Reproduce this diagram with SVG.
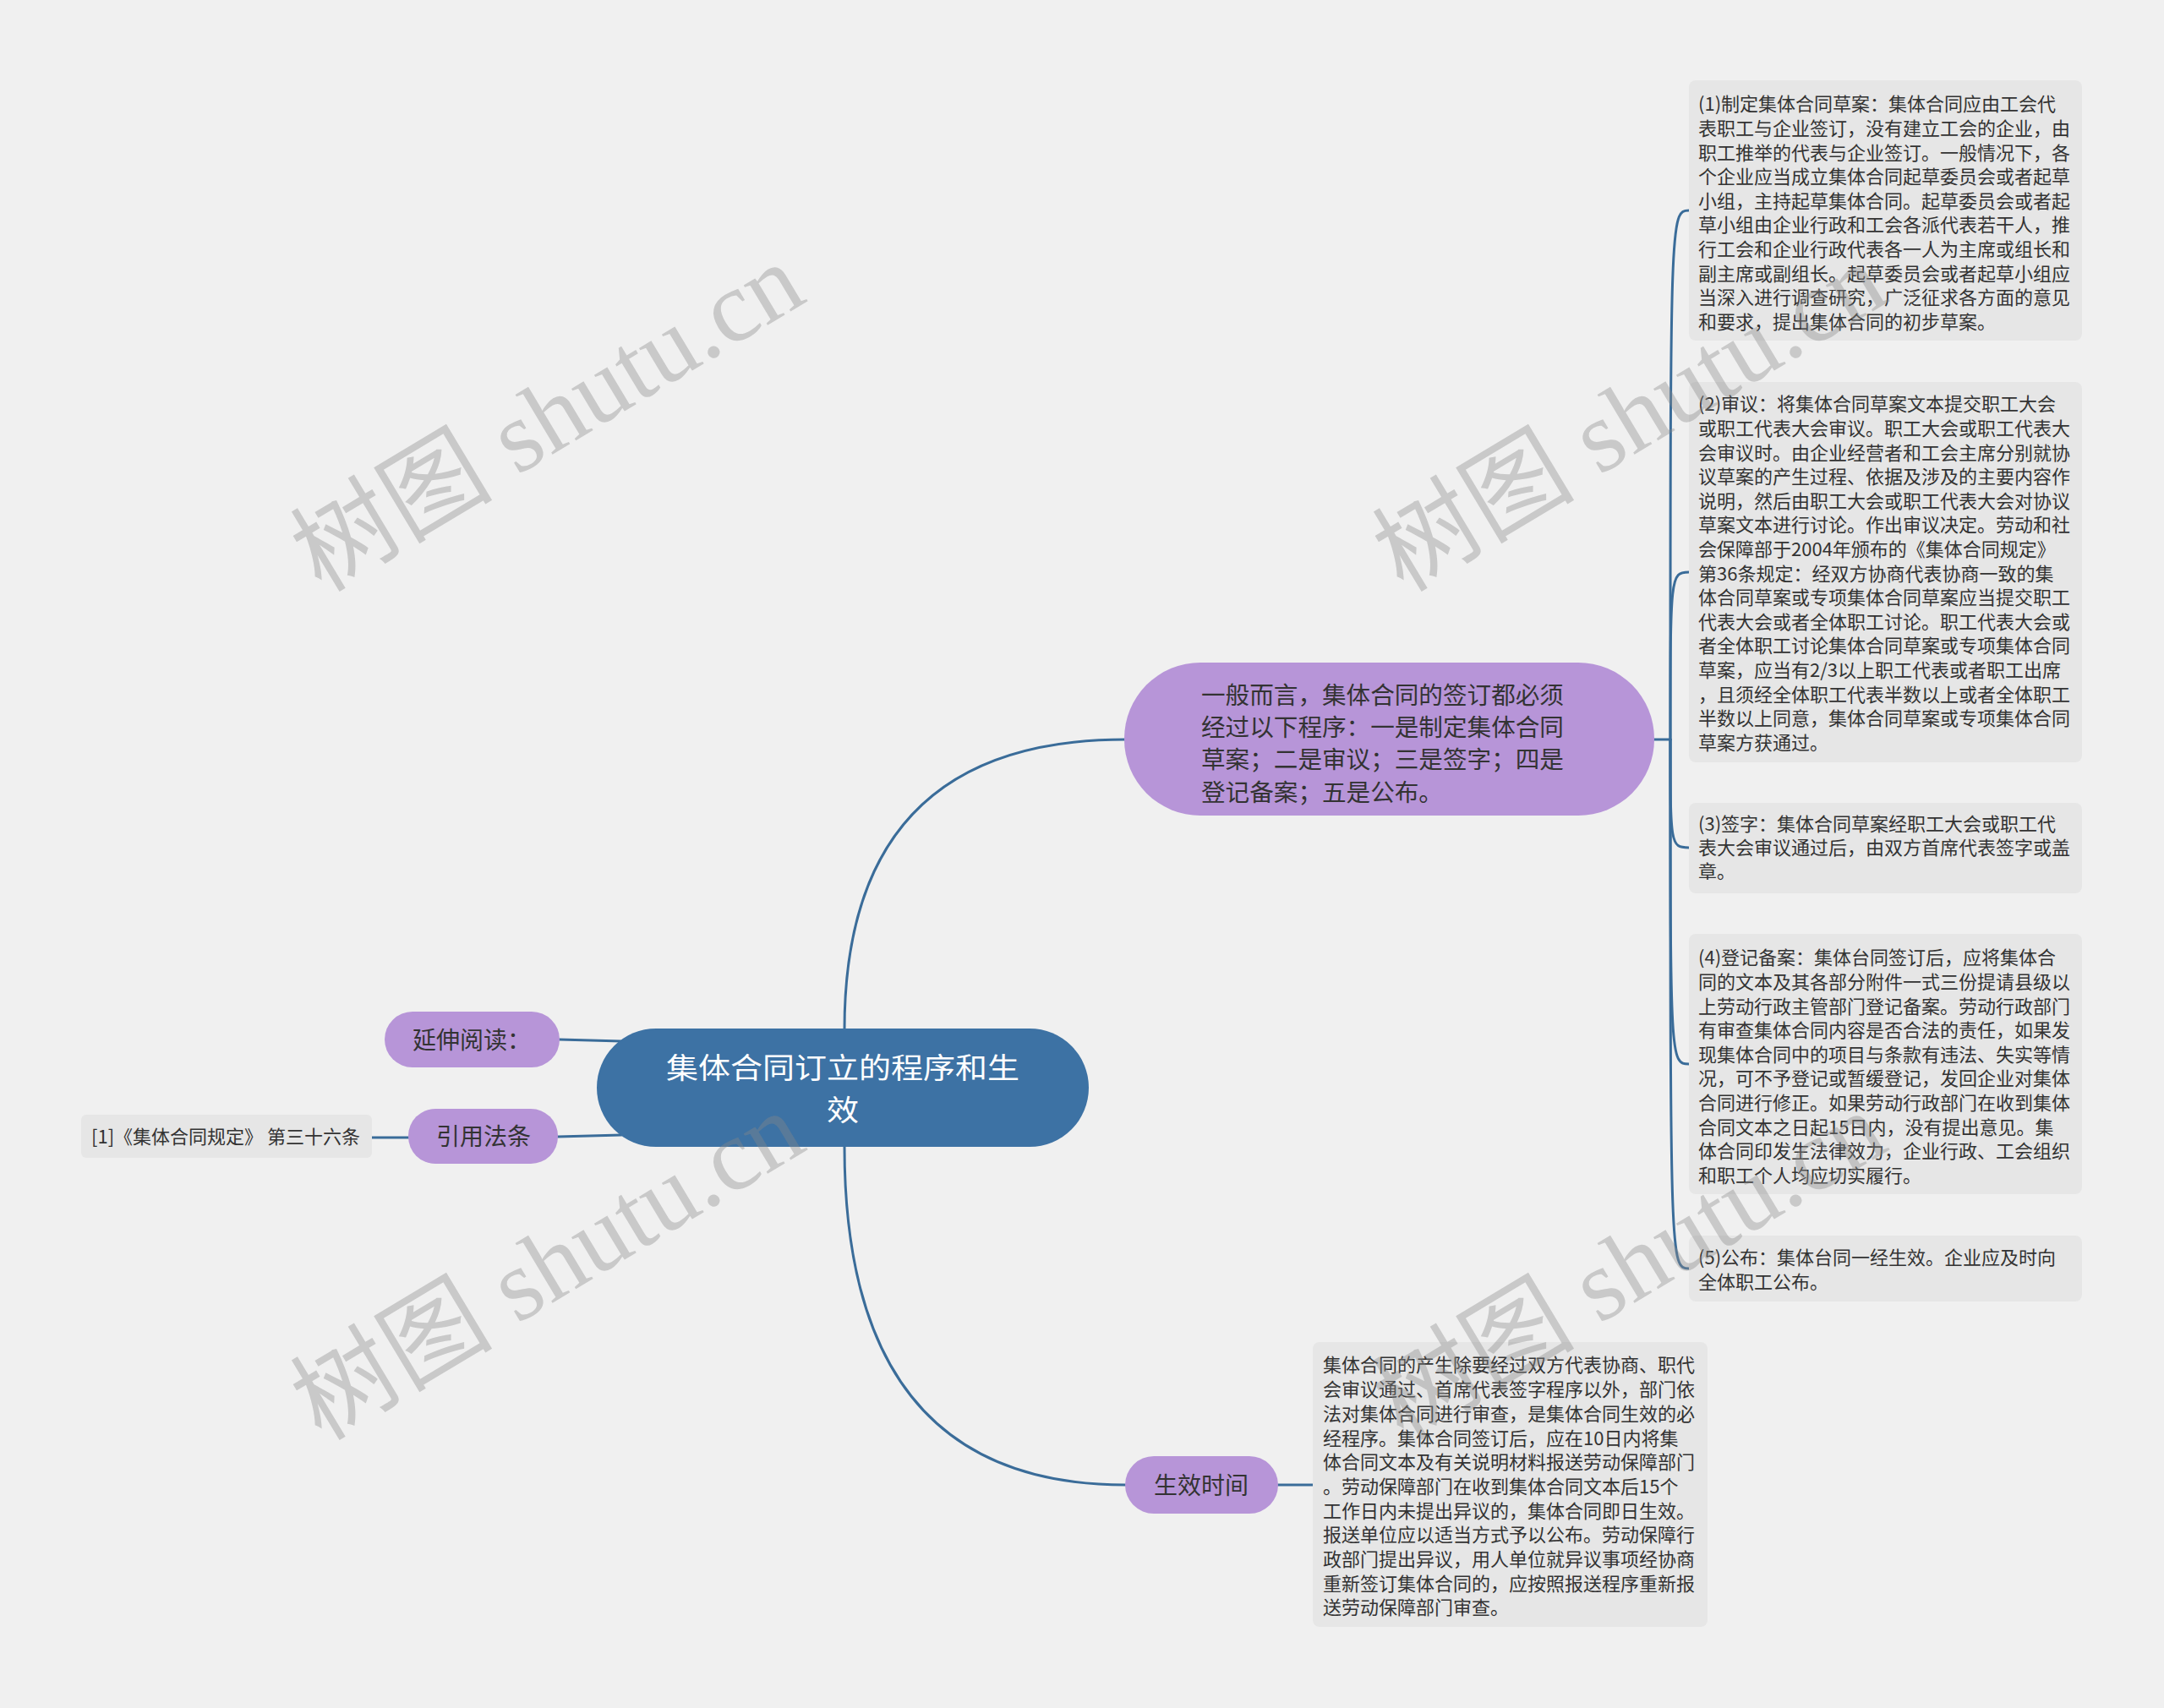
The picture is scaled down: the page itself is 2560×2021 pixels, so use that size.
<svg xmlns="http://www.w3.org/2000/svg" width="2560" height="2021" viewBox="0 0 2560 2021">
<style>
.bg{fill:#f0f0f0}
.conn path{fill:none;stroke:#3a6c99;stroke-width:3;stroke-linecap:round}
.purple{fill:#b795d8}
.central{fill:#3d72a4}
.box{fill:#e6e6e6}
.t{font-family:"Noto Sans CJK SC","Noto Sans",sans-serif;fill:#333}
.t22{font-size:22px}
.t28{font-size:28px}
.ct{font-family:"Noto Sans CJK SC","Noto Sans",sans-serif;font-size:34px;fill:#ffffff}
.wm{font-family:"Liberation Serif","Noto Sans CJK SC",serif;font-size:120px;fill:#888;fill-opacity:0.38}
</style>
<rect class="bg" x="0" y="0" width="2560" height="2021"/>
<g id="connectors" class="conn">
<path d="M999 1218 Q999 875 1331 875"/>
<path d="M999 1357 Q999 1757 1331 1757"/>
<path d="M662 1230 L735 1232"/>
<path d="M660 1345 L735 1343"/>
<path d="M440 1346 L483 1346"/>
<path d="M1512 1757 L1553 1757"/>
<path d="M1957 875 L1976 875"/>
<path d="M1976 875 C1976 255 1976 249 1998 249"/>
<path d="M1976 875 C1976 680 1976 677 1998 677"/>
<path d="M1976 875 C1976 1000 1976 1003 1998 1003"/>
<path d="M1976 875 C1976 1255 1976 1259 1998 1259"/>
<path d="M1976 875 C1976 1495 1976 1501 1998 1501"/>
</g>
<g id="central">
<rect class="central" x="706" y="1217" width="582" height="140" rx="70"/>
<text class="ct" x="788" y="1276" textLength="418" lengthAdjust="spacingAndGlyphs">集体合同订立的程序和生</text>
<text class="ct" x="978" y="1326" textLength="38" lengthAdjust="spacingAndGlyphs">效</text>
</g>
<g id="node-yanshen">
<rect class="purple" x="455" y="1197" width="207" height="66" rx="33"/>
<text class="t t28" x="558" y="1241" text-anchor="middle">延伸阅读：</text>
</g>
<g id="node-yinyong">
<rect class="purple" x="483" y="1312" width="177" height="65" rx="32"/>
<text class="t t28" x="572" y="1355" text-anchor="middle">引用法条</text>
</g>
<g id="node-ref">
<rect class="box" x="96" y="1319" width="344" height="51" rx="6"/>
<text class="t t22" x="108" y="1353">[1]《集体合同规定》 第三十六条</text>
</g>
<g id="node-procedure">
<rect class="purple" x="1330" y="784" width="627" height="181" rx="90"/>
<text class="t" font-size="28.6" x="1421">
<tspan x="1421" y="833">一般而言，集体合同的签订都必须</tspan>
<tspan x="1421" y="871">经过以下程序：一是制定集体合同</tspan>
<tspan x="1421" y="909">草案；二是审议；三是签字；四是</tspan>
<tspan x="1421" y="948">登记备案；五是公布。</tspan>
</text>
</g>
<g id="node-step1">
<rect class="box" x="1998" y="95" width="465" height="308" rx="8"/>
<text class="t t22">
<tspan x="2009" y="131.4">(1)制定集体合同草案：集体合同应由工会代</tspan>
<tspan x="2009" y="160">表职工与企业签订，没有建立工会的企业，由</tspan>
<tspan x="2009" y="188.6">职工推举的代表与企业签订。一般情况下，各</tspan>
<tspan x="2009" y="217.2">个企业应当成立集体合同起草委员会或者起草</tspan>
<tspan x="2009" y="245.8">小组，主持起草集体合同。起草委员会或者起</tspan>
<tspan x="2009" y="274.4">草小组由企业行政和工会各派代表若干人，推</tspan>
<tspan x="2009" y="303">行工会和企业行政代表各一人为主席或组长和</tspan>
<tspan x="2009" y="331.6">副主席或副组长。起草委员会或者起草小组应</tspan>
<tspan x="2009" y="360.2">当深入进行调查研究，广泛征求各方面的意见</tspan>
<tspan x="2009" y="388.8">和要求，提出集体合同的初步草案。</tspan>
</text>
</g>
<g id="node-step2">
<rect class="box" x="1998" y="452" width="465" height="450" rx="8"/>
<text class="t t22">
<tspan x="2009" y="486.4">(2)审议：将集体合同草案文本提交职工大会</tspan>
<tspan x="2009" y="515">或职工代表大会审议。职工大会或职工代表大</tspan>
<tspan x="2009" y="543.6">会审议时。由企业经营者和工会主席分别就协</tspan>
<tspan x="2009" y="572.2">议草案的产生过程、依据及涉及的主要内容作</tspan>
<tspan x="2009" y="600.8">说明，然后由职工大会或职工代表大会对协议</tspan>
<tspan x="2009" y="629.4">草案文本进行讨论。作出审议决定。劳动和社</tspan>
<tspan x="2009" y="658">会保障部于2004年颁布的《集体合同规定》</tspan>
<tspan x="2009" y="686.6">第36条规定：经双方协商代表协商一致的集</tspan>
<tspan x="2009" y="715.2">体合同草案或专项集体合同草案应当提交职工</tspan>
<tspan x="2009" y="743.8">代表大会或者全体职工讨论。职工代表大会或</tspan>
<tspan x="2009" y="772.4">者全体职工讨论集体合同草案或专项集体合同</tspan>
<tspan x="2009" y="801">草案，应当有2/3以上职工代表或者职工出席</tspan>
<tspan x="2009" y="829.6">，且须经全体职工代表半数以上或者全体职工</tspan>
<tspan x="2009" y="858.2">半数以上同意，集体合同草案或专项集体合同</tspan>
<tspan x="2009" y="886.8">草案方获通过。</tspan>
</text>
</g>
<g id="node-step3">
<rect class="box" x="1998" y="950" width="465" height="107" rx="8"/>
<text class="t t22">
<tspan x="2009" y="983.4">(3)签字：集体合同草案经职工大会或职工代</tspan>
<tspan x="2009" y="1011.4">表大会审议通过后，由双方首席代表签字或盖</tspan>
<tspan x="2009" y="1039.4">章。</tspan>
</text>
</g>
<g id="node-step4">
<rect class="box" x="1998" y="1105" width="465" height="308" rx="8"/>
<text class="t t22">
<tspan x="2009" y="1141.4">(4)登记备案：集体台同签订后，应将集体合</tspan>
<tspan x="2009" y="1170">同的文本及其各部分附件一式三份提请县级以</tspan>
<tspan x="2009" y="1198.6">上劳动行政主管部门登记备案。劳动行政部门</tspan>
<tspan x="2009" y="1227.2">有审查集体合同内容是否合法的责任，如果发</tspan>
<tspan x="2009" y="1255.8">现集体合同中的项目与条款有违法、失实等情</tspan>
<tspan x="2009" y="1284.4">况，可不予登记或暂缓登记，发回企业对集体</tspan>
<tspan x="2009" y="1313">合同进行修正。如果劳动行政部门在收到集体</tspan>
<tspan x="2009" y="1341.6">合同文本之日起15日内，没有提出意见。集</tspan>
<tspan x="2009" y="1370.2">体合同印发生法律效力，企业行政、工会组织</tspan>
<tspan x="2009" y="1398.8">和职工个人均应切实履行。</tspan>
</text>
</g>
<g id="node-step5">
<rect class="box" x="1998" y="1462" width="465" height="78" rx="8"/>
<text class="t t22">
<tspan x="2009" y="1496.4">(5)公布：集体台同一经生效。企业应及时向</tspan>
<tspan x="2009" y="1525">全体职工公布。</tspan>
</text>
</g>
<g id="node-effect">
<rect class="purple" x="1331" y="1723" width="181" height="68" rx="34"/>
<text class="t t28" x="1421" y="1768" text-anchor="middle">生效时间</text>
</g>
<g id="node-effect-detail">
<rect class="box" x="1553" y="1588" width="467" height="337" rx="8"/>
<text class="t t22">
<tspan x="1565" y="1623.4">集体合同的产生除要经过双方代表协商、职代</tspan>
<tspan x="1565" y="1652.1">会审议通过、首席代表签字程序以外，部门依</tspan>
<tspan x="1565" y="1680.8">法对集体合同进行审查，是集体合同生效的必</tspan>
<tspan x="1565" y="1709.5">经程序。集体合同签订后，应在10日内将集</tspan>
<tspan x="1565" y="1738.2">体合同文本及有关说明材料报送劳动保障部门</tspan>
<tspan x="1565" y="1766.9">。劳动保障部门在收到集体合同文本后15个</tspan>
<tspan x="1565" y="1795.6">工作日内未提出异议的，集体合同即日生效。</tspan>
<tspan x="1565" y="1824.3">报送单位应以适当方式予以公布。劳动保障行</tspan>
<tspan x="1565" y="1853">政部门提出异议，用人单位就异议事项经协商</tspan>
<tspan x="1565" y="1881.7">重新签订集体合同的，应按照报送程序重新报</tspan>
<tspan x="1565" y="1910.4">送劳动保障部门审查。</tspan>
</text>
</g>
<g id="watermarks">
<text class="wm" transform="translate(380,702) rotate(-31)">树图 shutu.cn</text>
<text class="wm" transform="translate(1660,702) rotate(-31)">树图 shutu.cn</text>
<text class="wm" transform="translate(380,1706) rotate(-31)">树图 shutu.cn</text>
<text class="wm" transform="translate(1660,1706) rotate(-31)">树图 shutu.cn</text>
</g>
</svg>
